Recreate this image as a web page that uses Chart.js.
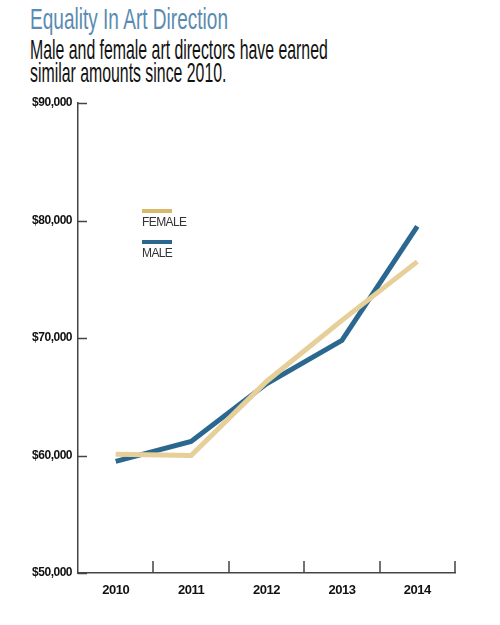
<!DOCTYPE html>
<html>
<head>
<meta charset="utf-8">
<script src="https://cdn.jsdelivr.net/npm/chart.js@4.4.0/dist/chart.umd.min.js"></script>
<style>
  html, body { margin: 0; padding: 0; background: #fff; }
  #wrap { position: relative; width: 500px; height: 625px; overflow: hidden; }
  .hd { position: absolute; left: 30px; white-space: nowrap; transform-origin: 0 0;
        font-family: "Liberation Sans", Arial, sans-serif; }
  #title { top: 2px; font-size: 30px; color: #5a8bb0; transform: scaleX(0.635); }
  #sub { top: 38px; font-size: 28px; line-height: 23px; color: #111; transform: scaleX(0.566); }
  canvas { position: absolute; left: 0; top: 0; }
</style>
</head>
<body>
<div id="wrap">
  <div class="hd" id="title">Equality In Art Direction</div>
  <div class="hd" id="sub">Male and female art directors have earned<br>similar amounts since 2010.</div>
  <canvas id="salaryChart" width="500" height="625"></canvas>
</div>
<script>
const years = ['2010', '2011', '2012', '2013', '2014'];
const femaleSalary = [60100, 60000, 66300, 71500, 76500];
const maleSalary = [59500, 61200, 66100, 69800, 79500];
const yTicks = [50000, 60000, 70000, 80000, 90000];

const FONT = '"Liberation Sans", Arial, sans-serif';

// no narrow font available, so squeeze the tick labels a bit
const tightText = {
    id: 'tightText',
    beforeLayout(chart) { chart.ctx.letterSpacing = '-0.5px'; },
    beforeDraw(chart) { chart.ctx.letterSpacing = '-0.5px'; }
};

// ticks drawn inward from the axes, like the print graphic
const innerTicks = {
    id: 'innerTicks',
    afterDraw(chart) {
        const c = chart.ctx;
        const x = chart.scales.x, y = chart.scales.y;
        const area = chart.chartArea;
        c.save();
        c.strokeStyle = '#444';
        c.lineWidth = 1.5;
        c.beginPath();
        y.ticks.forEach((t, i) => {
            const py = Math.round(y.getPixelForTick(i)) + 0.5;
            c.moveTo(area.left, py);
            c.lineTo(area.left + 9, py);
        });
        for (let i = 0; i < x.ticks.length; i++) {
            const px = i < x.ticks.length - 1
                ? (x.getPixelForTick(i) + x.getPixelForTick(i + 1)) / 2
                : area.right;
            c.moveTo(Math.round(px), area.bottom);
            c.lineTo(Math.round(px), area.bottom - 12);
        }
        c.stroke();
        c.restore();
    }
};

// legend inside the plot area
const innerLegend = {
    id: 'innerLegend',
    afterDraw(chart) {
        const c = chart.ctx;
        c.save();
        c.letterSpacing = '-0.6px';
        c.font = '12px ' + FONT;
        c.textBaseline = 'middle';
        chart.data.datasets.forEach((ds, i) => {
            const top = 209 + i * 31;
            c.fillStyle = ds.legendColor;
            c.fillRect(142, top, 30, 4);
            c.fillStyle = '#333';
            c.fillText(ds.label, 142, top + 14);
        });
        c.restore();
    }
};

const ctx = document.getElementById('salaryChart');
new Chart(ctx, {
    type: 'line',
    data: {
        labels: years,
        datasets: [{
            label: 'FEMALE',
            data: femaleSalary,
            borderColor: '#e6cf98',
            legendColor: '#d8b86a',
            borderWidth: 5,
            pointRadius: 0,
            tension: 0
        }, {
            label: 'MALE',
            data: maleSalary,
            borderColor: '#2b6890',
            legendColor: '#2b6890',
            borderWidth: 5,
            pointRadius: 0,
            tension: 0
        }]
    },
    options: {
        responsive: false,
        animation: false,
        layout: { padding: { left: 0, right: 45, top: 103, bottom: 12 } },
        plugins: {
            legend: { display: false },
            tooltip: { enabled: false }
        },
        scales: {
            x: {
                offset: true,
                grid: { drawOnChartArea: false, drawTicks: false },
                border: { color: '#444', width: 1.5 },
                ticks: {
                    color: '#111',
                    padding: 10,
                    font: { family: FONT, size: 13, weight: 'bold' }
                },
                afterFit(s) { s.height = 40; }
            },
            y: {
                min: yTicks[0],
                max: yTicks[yTicks.length - 1],
                afterBuildTicks(s) { s.ticks = yTicks.map(v => ({ value: v })); },
                grid: { drawOnChartArea: false, drawTicks: false },
                border: { color: '#444', width: 1.5 },
                ticks: {
                    color: '#111',
                    padding: 6,
                    font: { family: FONT, size: 12, weight: 'bold' },
                    callback: v => '$' + v.toLocaleString('en-US')
                },
                afterFit(s) { s.width = 78; }
            }
        }
    },
    plugins: [tightText, innerTicks, innerLegend]
});
</script>
</body>
</html>
